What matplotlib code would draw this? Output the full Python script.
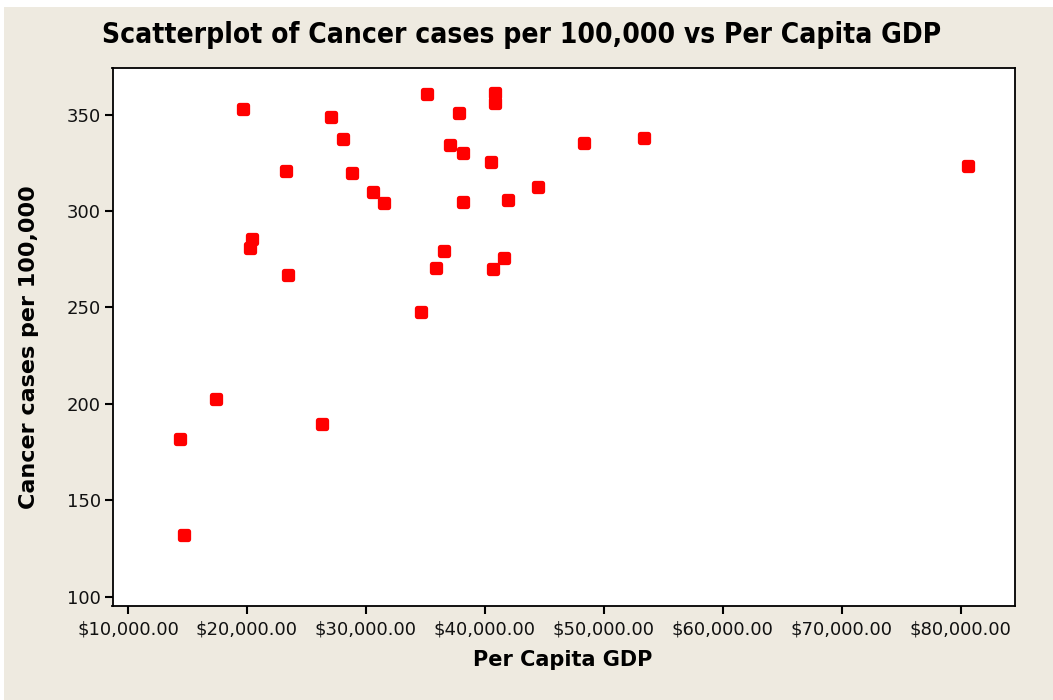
import os
import matplotlib
matplotlib.use("Agg")
import matplotlib.pyplot as plt
from matplotlib.markers import MarkerStyle
from matplotlib.patches import Rectangle
from matplotlib import font_manager
from matplotlib.ticker import FuncFormatter

# ---- data ----
gdp = [19630, 27084, 28034, 23277, 28824, 30555, 31513, 20420, 20252, 23445,
       34672, 35151, 40866, 40866, 37840, 37059, 38176, 40529, 48319, 53361,
       44504, 38176, 41983, 36555, 35933, 41647, 40697, 80639, 17420, 14395,
       14731, 26303]
cases = [352.7, 348.8, 337.2, 320.6, 319.6, 309.7, 303.9, 285.4, 280.6, 266.7,
         247.4, 360.9, 361.4, 355.9, 350.8, 334.2, 330.3, 325.4, 335.1, 338.1,
         312.7, 304.9, 305.9, 279.5, 270.7, 275.5, 269.7, 323.4, 202.3, 181.7,
         132.0, 189.5]
x_ticks = [10000, 20000, 30000, 40000, 50000, 60000, 70000, 80000]
y_ticks = [100, 150, 200, 250, 300, 350]

title = "Scatterplot of Cancer cases per 100,000 vs Per Capita GDP"
xlabel = "Per Capita GDP"
ylabel = "Cancer cases per 100,000"

BEIGE = "#EEEAE0"
W, H = 1053, 700

fig = plt.figure(figsize=(W / 100, H / 100), dpi=100, facecolor="white")
fig.patches.append(Rectangle((4 / W, 0), 1, 1 - 7 / H, transform=fig.transFigure,
                             facecolor=BEIGE, edgecolor="none", zorder=-10))

left, right, top, bottom = 112.5, 1015, 67.5, 606
ax = fig.add_axes([left / W, 1 - bottom / H, (right - left) / W, (bottom - top) / H])
ax.set_facecolor("white")

marker = MarkerStyle("s", joinstyle="round")
ax.scatter(gdp, cases, s=30, marker=marker, facecolor="#FF0000",
           edgecolor="#FF0000", linewidths=3.8, zorder=3)

ax.set_xlim(8700, 84560)
ax.set_ylim(95.2, 374.4)
ax.set_xticks(x_ticks)
ax.set_yticks(y_ticks)
ax.xaxis.set_major_formatter(FuncFormatter(lambda v, p: "${:,.2f}".format(v)))
ax.tick_params(axis="both", direction="out", length=5.5, width=1.5,
               labelsize=13, color="black", labelcolor="#111111")
ax.tick_params(axis="x", pad=5)
ax.tick_params(axis="y", pad=3)
for sp in ax.spines.values():
    sp.set_linewidth(1.3)
    sp.set_color("black")

# condensed bold font for the title if available
cond = None
for f in font_manager.fontManager.ttflist:
    b = os.path.basename(f.fname)
    if b in ("DejaVuSansCondensed-Bold.ttf", "LiberationSansNarrow-Bold.ttf"):
        cond = f.fname
        break
if cond:
    tprops = dict(fontproperties=font_manager.FontProperties(fname=cond, size=22))
else:
    tprops = dict(family="DejaVu Sans", fontweight="bold", fontsize=16)

t = fig.text(522 / W, 1 - 43 / H, title, ha="center", va="baseline", **tprops)
fig.text(563 / W, 1 - 666 / H, xlabel, ha="center", va="baseline",
         fontsize=15, fontweight="bold")
fig.text(29 / W, 1 - 347.5 / H, ylabel, ha="center", va="center", rotation=90,
         fontsize=16, fontweight="bold")

# fit title width to the reference (~832 px)
fig.canvas.draw()
r = fig.canvas.get_renderer()
wpx = t.get_window_extent(r).width
t.set_fontsize(t.get_fontsize() * 832 / wpx)

fig.savefig("out.png", dpi=100, facecolor=fig.get_facecolor())
